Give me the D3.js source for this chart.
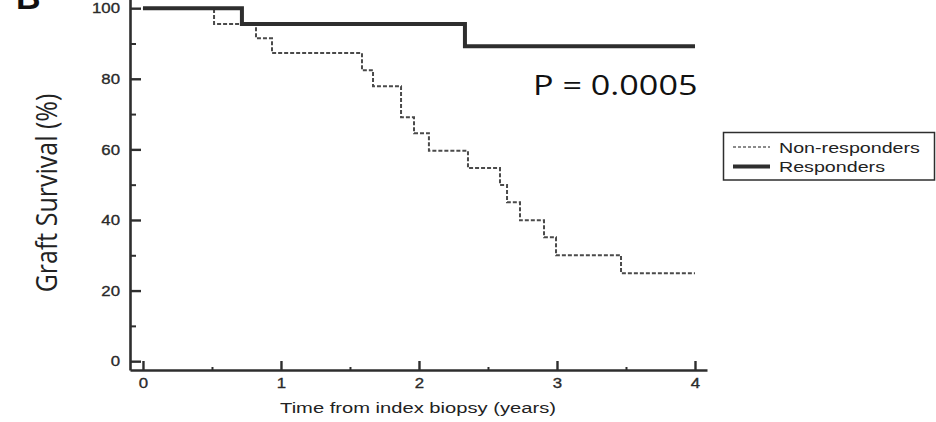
<!DOCTYPE html>
<html>
<head>
<meta charset="utf-8">
<script src="https://cdn.jsdelivr.net/npm/d3@7"></script>
<style>
  html, body { margin: 0; padding: 0; background: #fff; }
  svg { display: block; }
</style>
</head>
<body>
<svg id="chart" width="936" height="422"></svg>
<script>
// Kaplan–Meier graft survival by response group
const respTimes = [0, 0.717, 2.333, 4.0];
const respSurv  = [100, 95.5, 89.2, 89.2];

const nonTimes = [0, 0.515, 0.819, 0.935, 1.587, 1.667, 1.870, 1.964, 2.072, 2.355, 2.587, 2.638, 2.732, 2.906, 2.993, 3.464, 4.0];
const nonSurv  = [100, 95.5, 91.5, 87.3, 82.4, 77.9, 69.1, 64.6, 59.6, 54.7, 49.9, 45.0, 39.9, 35.1, 30.0, 24.9, 24.9];

const xTicks = [0, 1, 2, 3, 4];
const xMinorTicks = [0.5, 1.5, 2.5, 3.5];
const yTicks = [0, 20, 40, 60, 80, 100];
const yMinorTicks = [10, 30, 50, 70, 90];

const seriesNames = ["Non-responders", "Responders"];
const pLabel = "P = 0.0005";

const svg = d3.select("#chart");
const ink = "#2e2e2e";
const sans = "Liberation Sans, Arial, sans-serif";

// The figure's lettering is set slightly wide; widen glyphs by factor k.
function widen(sel, k) {
  sel.each(function () {
    const w = this.getComputedTextLength();
    d3.select(this).attr("textLength", w * k).attr("lengthAdjust", "spacingAndGlyphs");
  });
}

const x = d3.scaleLinear().domain([-0.094, 4.087]).range([130, 707]);
const y = d3.scaleLinear().domain([-2.5, 102.5]).range([370, -0.65]);

// Minor ticks (no labels)
svg.append("g")
  .attr("transform", `translate(${x.range()[0]},0)`)
  .call(d3.axisLeft(y).tickValues(yMinorTicks).tickSize(-6).tickFormat(""))
  .call(g => g.select(".domain").remove())
  .call(g => g.selectAll("line").attr("stroke", ink).attr("stroke-width", 2));

svg.append("g")
  .attr("transform", `translate(0,${y.range()[0]})`)
  .call(d3.axisBottom(x).tickValues(xMinorTicks).tickSize(-3).tickFormat(""))
  .call(g => g.select(".domain").remove())
  .call(g => g.selectAll("line").attr("stroke", ink).attr("stroke-width", 2));

// Y axis
const yAxis = svg.append("g")
  .attr("transform", `translate(${x.range()[0]},0)`)
  .call(d3.axisLeft(y).tickValues(yTicks).tickFormat(d3.format("d"))
    .tickSize(-11).tickPadding(10).tickSizeOuter(0));
yAxis.select(".domain").attr("stroke", ink).attr("stroke-width", 2.6);
yAxis.selectAll(".tick line").attr("stroke", ink).attr("stroke-width", 2.4);
yAxis.selectAll(".tick text")
  .attr("fill", "#2a2a2a").attr("stroke", "#2a2a2a").attr("stroke-width", 0.35)
  .attr("font-family", sans)
  .attr("font-size", 15)
  .call(widen, 1.12);

// X axis
const xAxis = svg.append("g")
  .attr("transform", `translate(0,${y.range()[0]})`)
  .call(d3.axisBottom(x).tickValues(xTicks).tickFormat(d3.format("d"))
    .tickSize(-9).tickPadding(7).tickSizeOuter(0));
xAxis.select(".domain").attr("stroke", ink).attr("stroke-width", 2.6);
xAxis.selectAll(".tick line").attr("stroke", ink).attr("stroke-width", 2.4);
xAxis.selectAll(".tick text")
  .attr("fill", "#2a2a2a").attr("stroke", "#2a2a2a").attr("stroke-width", 0.35)
  .attr("font-family", sans)
  .attr("font-size", 15)
  .call(widen, 1.12);

// Axis titles
svg.append("text")
  .attr("x", 418).attr("y", 413)
  .attr("text-anchor", "middle")
  .attr("font-family", sans)
  .attr("font-size", 15.5).attr("fill", "#222")
  .text("Time from index biopsy (years)")
  .call(widen, 1.3);

svg.append("text")
  .attr("transform", "translate(57,193) scale(1.2,1) rotate(-90)")
  .attr("text-anchor", "middle")
  .attr("font-family", "Open Sans, sans-serif")
  .attr("font-size", 25).attr("fill", "#222")
  .text("Graft Survival (%)");

// Panel letter
svg.append("text")
  .attr("x", 16).attr("y", 9)
  .attr("font-family", sans)
  .attr("font-weight", "bold")
  .attr("font-size", 34).attr("fill", "#111")
  .text("B");

// Survival curves
const step = d3.line()
  .x(d => x(d[0]))
  .y(d => y(d[1]))
  .curve(d3.curveStepAfter);

svg.append("path")
  .datum(d3.zip(nonTimes, nonSurv))
  .attr("d", step)
  .attr("fill", "none")
  .attr("stroke", "#4a4a4a")
  .attr("stroke-width", 2)
  .attr("stroke-dasharray", "4,2");

svg.append("path")
  .datum(d3.zip(respTimes, respSurv))
  .attr("d", step)
  .attr("fill", "none")
  .attr("stroke", ink)
  .attr("stroke-width", 4);

// P value annotation
svg.append("text")
  .attr("x", 533).attr("y", 95)
  .attr("font-family", "Open Sans, sans-serif")
  .attr("font-size", 28).attr("fill", "#111")
  .text(pLabel)
  .call(widen, 1.22);

// Legend
const legend = svg.append("g");
legend.append("rect")
  .attr("x", 723.5).attr("y", 132.5)
  .attr("width", 211).attr("height", 47.5)
  .attr("fill", "#fff").attr("stroke", ink).attr("stroke-width", 1.5);

const legendStyles = [
  { dash: "3,2", width: 1.5, color: "#666" },
  { dash: null, width: 4, color: ink }
];
seriesNames.forEach((name, i) => {
  const cy = 147 + i * 19.5;
  legend.append("line")
    .attr("x1", 733).attr("x2", 770)
    .attr("y1", cy).attr("y2", cy)
    .attr("stroke", legendStyles[i].color)
    .attr("stroke-width", legendStyles[i].width)
    .attr("stroke-dasharray", legendStyles[i].dash);
  legend.append("text")
    .attr("x", 779).attr("y", cy + 5.5)
    .attr("font-family", sans)
    .attr("font-size", 15).attr("fill", "#222")
    .text(name)
    .call(widen, 1.31);
});
</script>
</body>
</html>
